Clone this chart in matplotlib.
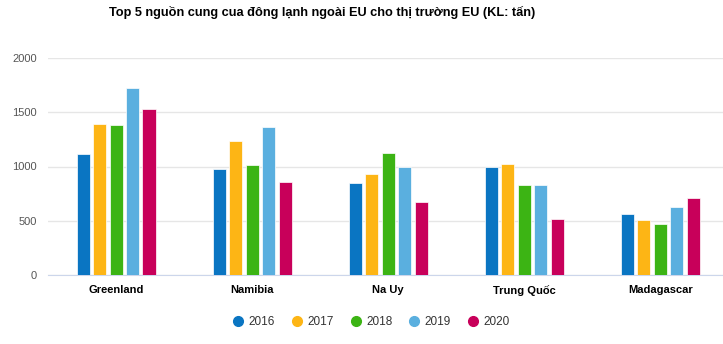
import numpy as np
import matplotlib
matplotlib.use("Agg")
import matplotlib.pyplot as plt
from matplotlib.lines import Line2D

countries = ["Greenland", "Namibia", "Na Uy", "Trung Quốc", "Madagascar"]
years = ["2016", "2017", "2018", "2019", "2020"]
v2016 = [1115, 977, 847, 1000, 563]
v2017 = [1392, 1235, 933, 1022, 508]
v2018 = [1383, 1014, 1121, 831, 471]
v2019 = [1724, 1364, 991, 831, 631]
v2020 = [1530, 857, 677, 520, 714]
colors = ["#0a75c2", "#fdb515", "#3cb414", "#5aafdf", "#c8005a"]

plt.rcParams["font.family"] = ["Liberation Sans", "DejaVu Sans"]

fig = plt.figure(figsize=(7.23, 3.44), dpi=100)
ax = fig.add_axes([48 / 723, 1 - 275 / 344, 1 - 48 / 723, 217 / 344])

x = np.arange(len(countries))
width = 0.096
step = 0.121
series = [v2016, v2017, v2018, v2019, v2020]
for i, vals in enumerate(series):
    ax.bar(x + (i - 2) * step, vals, width, color=colors[i],
           edgecolor="white", linewidth=0.5, zorder=3)

ax.set_ylim(0, 2000)
ax.set_xlim(-0.5, 4.46)
ax.set_yticks([0, 500, 1000, 1500, 2000])
ax.yaxis.grid(True, color="#e6e6e6", linewidth=1)
ax.set_axisbelow(True)
for s in ["top", "right", "left"]:
    ax.spines[s].set_visible(False)
ax.spines["bottom"].set_color("#ccd6eb")
ax.tick_params(axis="y", length=0, labelsize=8, labelcolor="#555555", pad=8)
ax.tick_params(axis="x", length=0, pad=7)
ax.set_xticks(x)
ax.set_xticklabels(countries, fontsize=8, fontweight="bold", color="black")

fig.text(0.445, 0.963, "Top 5 nguồn cung cua đông lạnh ngoài EU cho thị trường EU (KL: tấn)",
         ha="center", va="center", fontsize=9.2, fontweight="bold")

handles = [Line2D([], [], marker="o", linestyle="", markersize=7,
                  markerfacecolor=c, markeredgecolor=c) for c in colors]
fig.legend(handles, years, loc="center", bbox_to_anchor=(0.513, 0.063),
           ncol=5, frameon=False, fontsize=8.5, handlelength=1,
           handletextpad=0.4, columnspacing=1.35, labelcolor="#333333")

fig.savefig("out.png", dpi=100)
